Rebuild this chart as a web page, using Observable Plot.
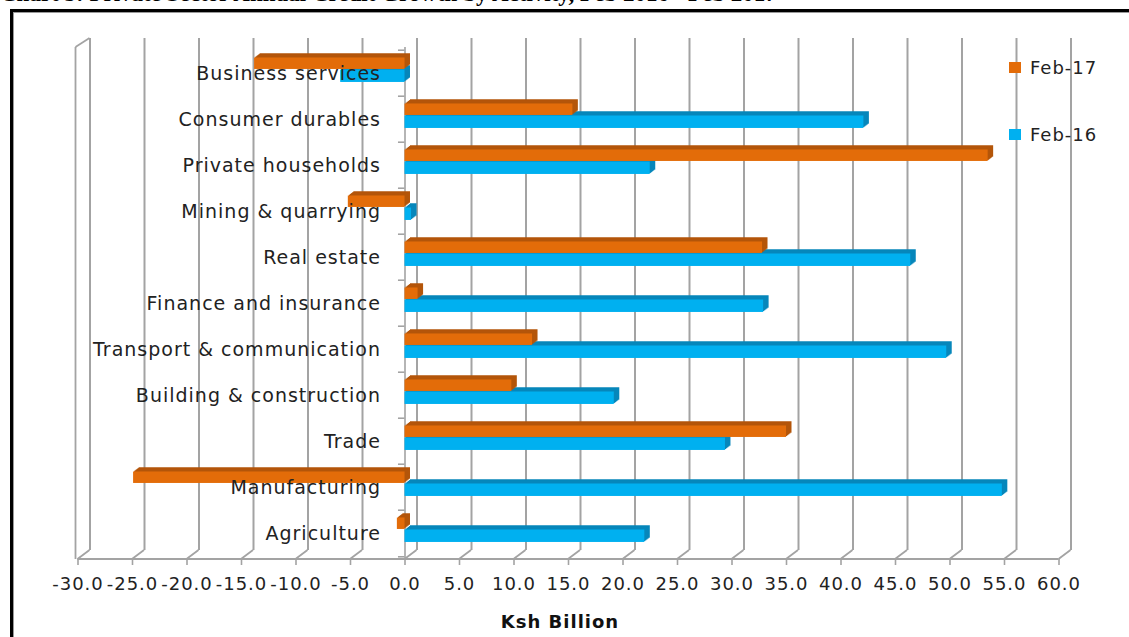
<!DOCTYPE html>
<html>
<head>
<meta charset="utf-8">
<script src="https://cdn.jsdelivr.net/npm/d3@7"></script>
<script src="https://cdn.jsdelivr.net/npm/@observablehq/plot@0.6"></script>
<style>
  html, body { margin: 0; background: #fff; }
  body { width: 1129px; height: 637px; overflow: hidden; position: relative; font-family: "DejaVu Sans", Verdana, sans-serif; }
  #title { position: absolute; left: 0; top: -19px; font: bold 23px "Liberation Serif", "Times New Roman", serif; white-space: nowrap; color: #000; }
  #box { position: absolute; left: 10px; top: 9px; width: 1160px; height: 680px; border: 3px solid #000; box-shadow: inset 1px 1px 0 #9a9a9a; }
  #chart { position: absolute; left: 0; top: 0; }
  .legend { position: absolute; left: 1009px; font-size: 18px; letter-spacing: 1px; color: #222; display: flex; align-items: center; }
  .legend i { display: inline-block; width: 12px; height: 11px; margin-right: 9px; }
  #xlabel { position: absolute; left: 0; width: 1129px; top: 611px; font-weight: bold; font-size: 18px; letter-spacing: 1px; color: #111; }
  #xlabel span { position: absolute; left: 560px; transform: translateX(-50%); white-space: nowrap; }
</style>
</head>
<body>
<div id="title">Chart 5: Private Sector Annual Credit Growth by Activity, Feb 2016 - Feb 2017</div>
<div id="box"></div>
<div id="chart"></div>
<div class="legend" style="top:57px"><i style="background:#e36c09"></i>Feb-17</div>
<div class="legend" style="top:124px"><i style="background:#00b0f0"></i>Feb-16</div>
<div id="xlabel"><span>Ksh Billion</span></div>
<script>
// Sectors, top to bottom
const categories = [
  "Business services",
  "Consumer durables",
  "Private households",
  "Mining & quarrying",
  "Real estate",
  "Finance and insurance",
  "Transport & communication",
  "Building & construction",
  "Trade",
  "Manufacturing",
  "Agriculture"
];

// Change in credit, Ksh billion
const feb17 = [-13.8, 15.4, 53.5, -5.2, 32.8, 1.2, 11.7, 9.8, 35.0, -24.9, -0.7];
const feb16 = [-5.9, 42.1, 22.5, 0.6, 46.4, 32.9, 49.7, 19.2, 29.4, 54.8, 22.0];

const seriesNames = ["Feb-17", "Feb-16"];
const xTicks = [-30, -25, -20, -15, -10, -5, 0, 5, 10, 15, 20, 25, 30, 35, 40, 45, 50, 55, 60];

const rows17 = categories.map((c, i) => ({sector: c, series: seriesNames[0], value: feb17[i]}));
const rows16 = categories.map((c, i) => ({sector: c, series: seriesNames[1], value: feb16[i]}));

const W = 1129, H = 637;
const M = {top: 47, right: 70.5, bottom: 78, left: 77.5};
const bw = (H - M.top - M.bottom) / categories.length;

// depth of the pseudo-3D box (back plane offset)
const DX = 12, DY = -9;
const grid = "#a3a3a3";

const colors = {
  "Feb-17": {face: "#e36c09", side: "#b4560a"},
  "Feb-16": {face: "#00b0f0", side: "#0787bb"}
};

// inset of each series bar within its sector band
const insets = {
  "Feb-17": {insetTop: 7.5, insetBottom: bw - 19.5},
  "Feb-16": {insetTop: 19.5, insetBottom: bw - 32.5}
};

// one bar with a small extrusion to the upper right
function bar3d(rows, name) {
  const c = colors[name];
  const marks = [];
  for (let k = 5; k >= 1; k--) {
    marks.push(Plot.barX(rows, {
      x: "value", y: "sector", fill: c.side,
      dx: k * 1.1, dy: -k * 0.85, ...insets[name]
    }));
  }
  marks.push(Plot.barX(rows, {x: "value", y: "sector", fill: c.face, ...insets[name]}));
  return marks;
}

// floor diagonals, wall top edge and the front baseline
function box3d(index, scales, values, dims) {
  const x = scales.x;
  const y0 = dims.height - dims.marginBottom, y1 = dims.marginTop;
  const g = d3.create("svg:g")
    .attr("fill", "none").attr("stroke", grid).attr("stroke-width", 1.8);
  for (const t of xTicks) {
    g.append("line")
      .attr("x1", x(t)).attr("y1", y0)
      .attr("x2", x(t) + DX).attr("y2", y0 + DY);
  }
  const xl = x(xTicks[0]) - 2;
  g.append("line").attr("x1", xl).attr("y1", y1).attr("x2", xl + DX + 2).attr("y2", y1 + DY);
  g.append("line").attr("x1", xl).attr("y1", y1).attr("x2", xl).attr("y2", y0);
  g.append("line").attr("x1", x(xTicks[0])).attr("y1", y0).attr("x2", x(xTicks[xTicks.length - 1])).attr("y2", y0);
  return g.node();
}

const chart = Plot.plot({
  width: W,
  height: H,
  marginTop: M.top,
  marginRight: M.right,
  marginBottom: M.bottom,
  marginLeft: M.left,
  style: {fontFamily: "'DejaVu Sans', Verdana, sans-serif", fontSize: "18px", background: "transparent", overflow: "visible"},
  x: {domain: [xTicks[0], xTicks[xTicks.length - 1]], axis: null, label: null},
  y: {domain: categories, padding: 0, axis: null, label: null},
  marks: [
    // back-plane gridlines
    Plot.ruleX(xTicks, {stroke: grid, strokeWidth: 2, dx: DX, dy: DY}),
    box3d,
    // category axis at zero
    Plot.ruleX([0], {stroke: grid, strokeWidth: 1.6}),
    Plot.ruleY(categories, {y: d => d, x1: -0.6, x2: 0, dy: -bw / 2, stroke: grid, strokeWidth: 1.6}),
    Plot.ruleY(categories.slice(-1), {y: d => d, x1: -0.6, x2: 0, dy: bw / 2, stroke: grid, strokeWidth: 1.6}),
    ...bar3d(rows16, "Feb-16"),
    ...bar3d(rows17, "Feb-17"),
    // sector labels
    Plot.text(categories, {
      x: () => 0, y: d => d, text: d => d,
      textAnchor: "end", dx: -24, dy: 0.5,
      fontSize: 19, fill: "#222"
    }),
    Plot.axisX({
      ticks: xTicks, tickFormat: d => d.toFixed(1), label: null,
      tickSize: 6, tickPadding: 12, stroke: grid, strokeWidth: 1.6,
      fontSize: 18, fill: "#222"
    })
  ]
});

// letter spacing for sector labels and tick labels
d3.select(chart).selectAll("text").style("letter-spacing", "1px");
document.getElementById("chart").appendChild(chart);
</script>
</body>
</html>
